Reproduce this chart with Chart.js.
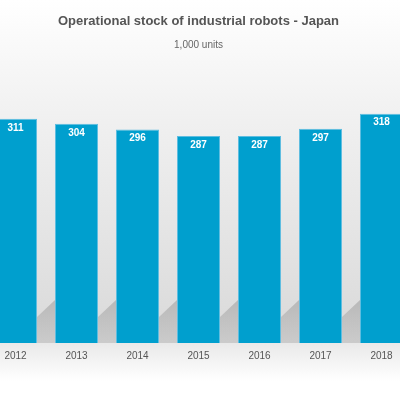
<!DOCTYPE html>
<html>
<head>
<meta charset="utf-8">
<script src="https://cdn.jsdelivr.net/npm/chart.js@4/dist/chart.umd.min.js"></script>
<style>
  html, body { margin: 0; padding: 0; background: #fff; overflow: hidden; }
  #wrap { position: absolute; left: -15px; top: 0; width: 427px; height: 395px; }
</style>
</head>
<body>
<div id="wrap"><canvas id="robots"></canvas></div>
<script>
    // operational stock, 1,000 units
    var years = ["2012", "2013", "2014", "2015", "2016", "2017", "2018"];
    var stock = [311, 304, 296, 287, 287, 297, 318];

    // background: grey gradient + floor fading to white, plus bar shadows and value labels
    var backdrop = {
        id: 'backdrop',
        beforeDraw: function (chart) {
            var ctx = chart.ctx, a = chart.chartArea;
            var g = ctx.createLinearGradient(0, 0, 0, a.bottom);
            g.addColorStop(0, '#ffffff');
            g.addColorStop(0.3, '#f2f2f2');
            g.addColorStop(1, '#d9d9d9');
            ctx.save();
            ctx.fillStyle = g;
            ctx.fillRect(0, 0, chart.width, a.bottom);
            var f = ctx.createLinearGradient(0, a.bottom, 0, a.bottom + 38);
            f.addColorStop(0, '#e9e9e9');
            f.addColorStop(1, '#ffffff');
            ctx.fillStyle = f;
            ctx.fillRect(0, a.bottom, chart.width, chart.height - a.bottom);
            ctx.restore();
        },
        beforeDatasetsDraw: function (chart) {
            var ctx = chart.ctx, bars = chart.getDatasetMeta(0).data;
            ctx.save();
            bars.forEach(function (b, i) {
                var r = b.x + b.width / 2, bot = b.base;
                var next = bars[i + 1] ? bars[i + 1].x - bars[i + 1].width / 2 : r + 18;
                var s = ctx.createLinearGradient(0, bot - 43, 0, bot);
                s.addColorStop(0, 'rgba(140,140,140,0.45)');
                s.addColorStop(1, 'rgba(140,140,140,0.18)');
                ctx.fillStyle = s;
                ctx.beginPath();
                ctx.moveTo(r, bot - 26);
                ctx.lineTo(next, bot - 43);
                ctx.lineTo(next, bot);
                ctx.lineTo(r, bot);
                ctx.closePath();
                ctx.fill();
            });
            ctx.restore();
        },
        afterDatasetsDraw: function (chart) {
            var ctx = chart.ctx;
            ctx.save();
            ctx.fillStyle = '#ffffff';
            ctx.font = 'bold 10px "Liberation Sans", Arial, sans-serif';
            ctx.textAlign = 'center';
            ctx.textBaseline = 'middle';
            chart.getDatasetMeta(0).data.forEach(function (b, i) {
                ctx.fillText(stock[i], b.x, b.y + 9);
            });
            ctx.restore();
        }
    };

    new Chart(document.getElementById("robots"), {
        type: 'bar',
        data: {
            labels: years,
            datasets: [{
                data: stock,
                backgroundColor: "#009fce",
                borderColor: "#5fbde0",
                borderWidth: 1,
                categoryPercentage: 1,
                barPercentage: 0.705
            }]
        },
        plugins: [backdrop],
        options: {
            responsive: true,
            maintainAspectRatio: false,
            animation: false,
            layout: { padding: { left: 0, right: 0, bottom: 34 } },
            plugins: {
                legend: { display: false },
                tooltip: { enabled: false },
                title: {
                    display: true,
                    text: 'Operational stock of industrial robots - Japan',
                    color: '#555',
                    font: { family: '"Liberation Sans", Arial, sans-serif', size: 13, weight: 'bold' },
                    padding: { top: 14, bottom: 5 }
                },
                subtitle: {
                    display: true,
                    text: '1,000 units',
                    color: '#666',
                    font: { family: '"Liberation Sans", Arial, sans-serif', size: 10 },
                    padding: { top: 5, bottom: 3 }
                }
            },
            scales: {
                x: {
                    grid: { display: false },
                    border: { display: false },
                    ticks: {
                        color: '#555',
                        padding: -1,
                        font: { family: '"Liberation Sans", Arial, sans-serif', size: 10 }
                    }
                },
                y: {
                    display: false,
                    min: 0,
                    max: 400
                }
            }
        }
    });
</script>
</body>
</html>
